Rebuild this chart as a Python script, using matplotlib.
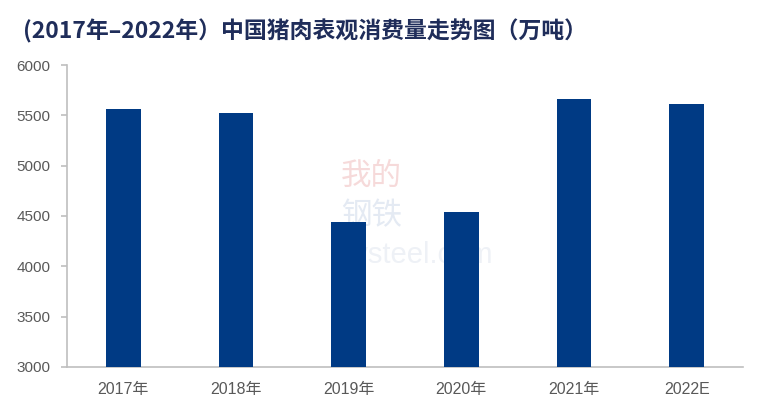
import matplotlib.pyplot as plt
import numpy as np

# Apparent pork consumption in China (10k tonnes)
years = ["2017年", "2018年", "2019年", "2020年", "2021年", "2022E"]
consumption = [5562, 5520, 4436, 4538, 5662, 5615]

bar_color = "#003A84"
grid_gray = "#BFBFBF"
text_gray = "#595959"

plt.rcParams["font.family"] = ["Liberation Sans", "Noto Sans CJK SC", "DejaVu Sans"]

fig = plt.figure(figsize=(7.68, 4.13), dpi=100)
ax = fig.add_axes([0.0872, 0.1114, 0.8802, 0.7312])

x = np.arange(len(years))
ax.bar(x, consumption, width=0.31, color=bar_color, zorder=3)

ax.set_xlim(-0.5, len(years) - 0.5)
ax.set_ylim(3000, 6000)
ax.set_yticks(np.arange(3000, 6001, 500))
ax.set_xticks(x)
ax.set_xticklabels(years)

for side in ["top", "right"]:
    ax.spines[side].set_visible(False)
for side in ["left", "bottom"]:
    ax.spines[side].set_color(grid_gray)
    ax.spines[side].set_linewidth(1.2)

ax.tick_params(axis="y", colors=grid_gray, length=4, width=1.2, pad=8,
               labelcolor=text_gray, labelsize=11)
ax.tick_params(axis="x", length=0, pad=11, labelcolor=text_gray, labelsize=11.5)

# faint watermark
ax.text(0.45, 0.63, "我的", transform=ax.transAxes, ha="center", va="center",
        fontsize=22, color="#F6DADA", family=["Noto Sans CJK SC"], zorder=1)
ax.text(0.45, 0.50, "钢铁", transform=ax.transAxes, ha="center", va="center",
        fontsize=22, color="#E4EAF3", family=["Noto Sans CJK SC"], zorder=1)
ax.text(0.51, 0.37, "Mysteel.com", transform=ax.transAxes, ha="center", va="center",
        fontsize=21, color="#EEF1F6", zorder=1)

fig.text(0.03, 0.925, "(2017年–2022年）中国猪肉表观消费量走势图（万吨）",
         fontsize=16.5, fontweight="bold", color="#1F2D5A",
         family=["Noto Sans CJK SC", "DejaVu Sans"], ha="left", va="center")

fig.savefig("out.png", dpi=100)
